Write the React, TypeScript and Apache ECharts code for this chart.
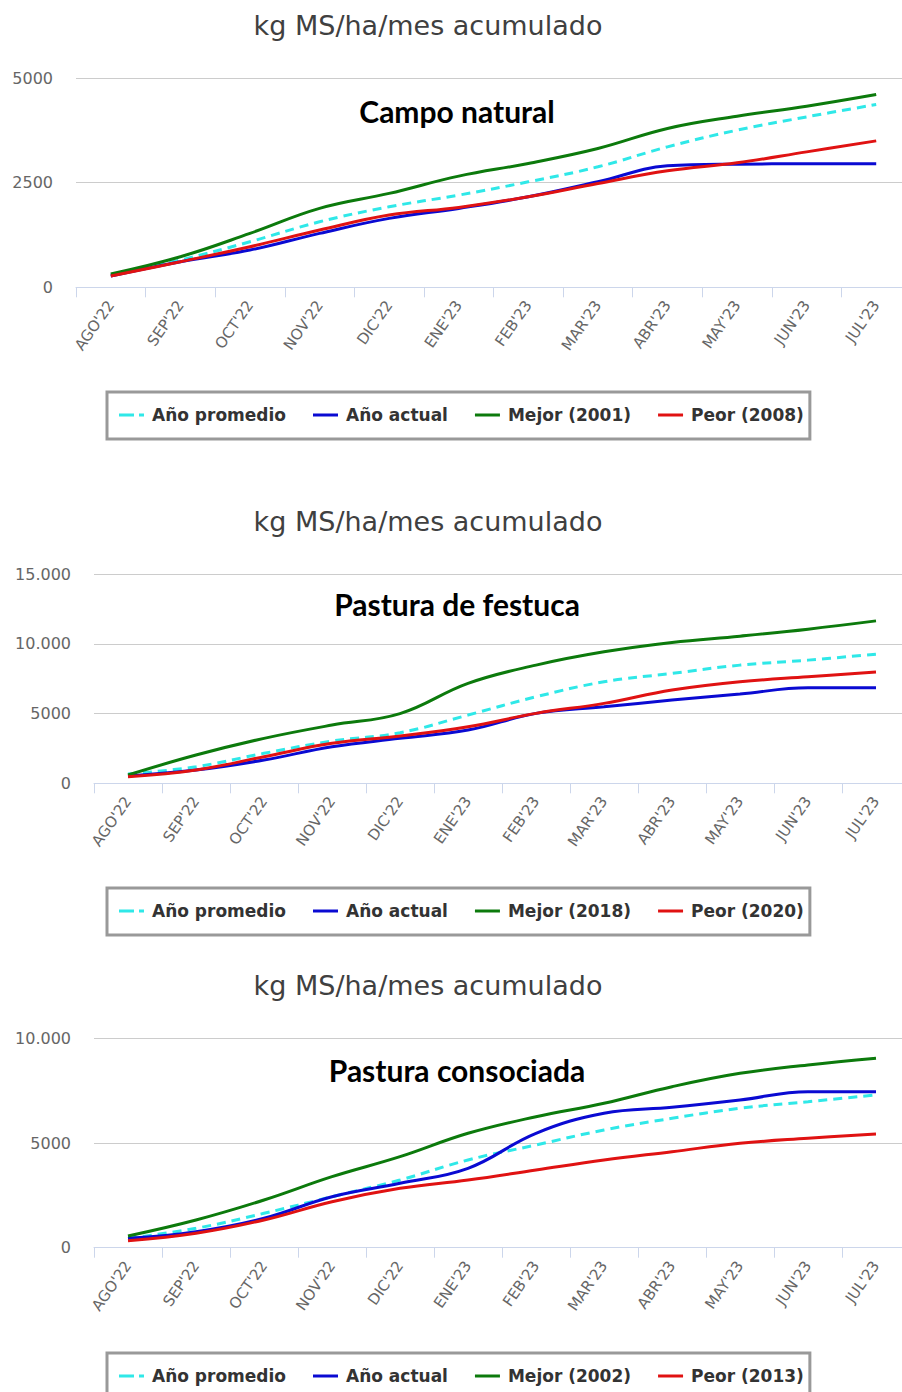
import React, { useEffect, useRef } from "react";
import * as echarts from "echarts";

const categories = ["AGO'22", "SEP'22", "OCT'22", "NOV'22", "DIC'22", "ENE'23", "FEB'23", "MAR'23", "ABR'23", "MAY'23", "JUN'23", "JUL'23"];

const mainTitle = "kg MS/ha/mes acumulado";
const subTitles = ["Campo natural", "Pastura de festuca", "Pastura consociada"];

// Campo natural
const cnPromedio = [293, 651, 1088, 1565, 1923, 2202, 2520, 2878, 3355, 3753, 4071, 4366];
const cnActual = [270, 611, 890, 1288, 1646, 1885, 2162, 2520, 2901, 2942, 2950, 2950];
const cnMejor = [317, 730, 1288, 1885, 2243, 2656, 2959, 3316, 3794, 4087, 4326, 4605];
const cnPeor = [270, 611, 969, 1367, 1725, 1909, 2162, 2481, 2782, 2973, 3235, 3498];
const cnNames = ["Año promedio", "Año actual", "Mejor (2001)", "Peor (2008)"];

// Pastura de festuca
const pfPromedio = [667, 1190, 2151, 3033, 3628, 4897, 6209, 7285, 7887, 8482, 8840, 9271];
const pfActual = [523, 954, 1671, 2624, 3226, 3822, 5019, 5492, 5973, 6403, 6855, 6855];
const pfMejor = [595, 2029, 3226, 4180, 5000, 7170, 8482, 9436, 10110, 10561, 11064, 11658];
const pfPeor = [473, 954, 1907, 2868, 3391, 4058, 5019, 5736, 6690, 7285, 7643, 7980];
const pfNames = ["Año promedio", "Año actual", "Mejor (2018)", "Peor (2020)"];

// Pastura consociada
const pcPromedio = [449, 927, 1643, 2436, 3233, 4189, 4905, 5621, 6180, 6658, 6973, 7293];
const pcActual = [449, 764, 1404, 2436, 3076, 3792, 5464, 6419, 6706, 7054, 7450, 7450];
const pcMejor = [559, 1323, 2278, 3391, 4346, 5464, 6257, 6897, 7690, 8329, 8726, 9046];
const pcPeor = [334, 688, 1323, 2197, 2837, 3233, 3711, 4189, 4585, 4986, 5225, 5430];
const pcNames = ["Año promedio", "Año actual", "Mejor (2002)", "Peor (2013)"];

const yMax = [5000, 15000, 10000];
const yInterval = [2500, 5000, 5000];

const COLORS = ["#2fe8e8", "#0a0ad2", "#0c7a0c", "#e01212"];
const DASH_ICON = "path://M0,0h15v3h-15z M20,0h5v3h-5z";
const LINE_ICON = "path://M0,0h25v3h-25z";

export default function App() {
  const ref = useRef<HTMLDivElement>(null);

  useEffect(() => {
    if (!ref.current) return;
    const chart = echarts.init(ref.current, null, { renderer: "svg" });

    const grids = [
      { left: 76, top: 78, width: 835, height: 209.3 },
      { left: 94, top: 574.3, width: 816, height: 209 },
      { left: 94, top: 1038.3, width: 816, height: 209.4 },
    ];
    const datasets = [
      [cnPromedio, cnActual, cnMejor, cnPeor],
      [pfPromedio, pfActual, pfMejor, pfPeor],
      [pcPromedio, pcActual, pcMejor, pcPeor],
    ];
    const names = [cnNames, pfNames, pcNames];
    const titleTops = [25, 521, 985];
    const subTops = [111, 604, 1070];
    const legendTops = [392, 888, 1353];

    const fmt = (v: number) => {
      if (v >= 10000) {
        return `${Math.floor(v / 1000)}.${String(v % 1000).padStart(3, "0")}`;
      }
      return String(v);
    };

    const series: any[] = [];
    datasets.forEach((ds, gi) => {
      ds.forEach((vals, si) => {
        series.push({
          type: "line",
          name: names[gi][si],
          xAxisIndex: gi,
          yAxisIndex: gi,
          data: vals,
          smooth: 0.4,
          symbol: "none",
          showSymbol: false,
          color: COLORS[si],
          lineStyle: {
            width: 3,
            color: COLORS[si],
            type: si === 0 ? [9, 6] : "solid",
          },
          z: 2 + si,
        });
      });
    });

    const graphics: any[] = [];
    titleTops.forEach((y, i) => {
      graphics.push({
        type: "text",
        x: 428,
        y,
        style: {
          text: mainTitle,
          textAlign: "center",
          textVerticalAlign: "middle",
          font: "27px 'DejaVu Sans'",
          fill: "#404040",
        },
      });
      graphics.push({
        type: "text",
        x: 457,
        y: subTops[i],
        z: 100,
        style: {
          text: subTitles[i],
          textAlign: "center",
          textVerticalAlign: "middle",
          font: "bold 30px Lato",
          fill: "#000000",
        },
      });
    });

    chart.setOption({
      animation: false,
      grid: grids,
      xAxis: grids.map((_, i) => ({
        type: "category",
        gridIndex: i,
        data: categories,
        boundaryGap: true,
        axisLine: { show: true, lineStyle: { color: "#ccd6eb", width: 1 } },
        axisTick: { show: true, length: 10, lineStyle: { color: "#ccd6eb" } },
        axisLabel: {
          rotate: 55,
          color: "#666666",
          fontSize: 15,
          fontFamily: "'DejaVu Sans'",
          margin: 15,
          interval: 0,
        },
        splitLine: { show: false },
      })),
      yAxis: grids.map((_, i) => ({
        type: "value",
        gridIndex: i,
        min: 0,
        max: yMax[i],
        interval: yInterval[i],
        axisLine: { show: false },
        axisTick: { show: false },
        axisLabel: {
          color: "#666666",
          fontSize: 16,
          fontFamily: "'DejaVu Sans'",
          margin: 23,
          formatter: fmt,
        },
        splitLine: { show: true, lineStyle: { color: "#cccccc", width: 1 } },
      })),
      legend: legendTops.map((top, i) => ({
        data: names[i].map((n, k) => ({ name: n, icon: k === 0 ? DASH_ICON : LINE_ICON })),
        left: 107,
        top,
        orient: "horizontal",
        borderColor: "#999999",
        borderWidth: 3,
        borderRadius: 0,
        padding: [13, 6, 14, 12],
        itemGap: 27,
        itemWidth: 25,
        itemHeight: 3,
        textStyle: {
          fontSize: 17,
          fontWeight: "bold",
          color: "#333333",
          fontFamily: "'DejaVu Sans'",
          padding: [0, 0, 0, 3],
          lineHeight: 20,
        },
        selectedMode: false,
      })),
      graphic: graphics,
      series,
    });

    return () => chart.dispose();
  }, []);

  return (
    <div
      style={{ position: "absolute", left: 0, top: 0, width: 902, height: 1392, overflow: "hidden", background: "#fff" }}
    >
      <div ref={ref} style={{ width: 920, height: 1392 }} />
    </div>
  );
}
